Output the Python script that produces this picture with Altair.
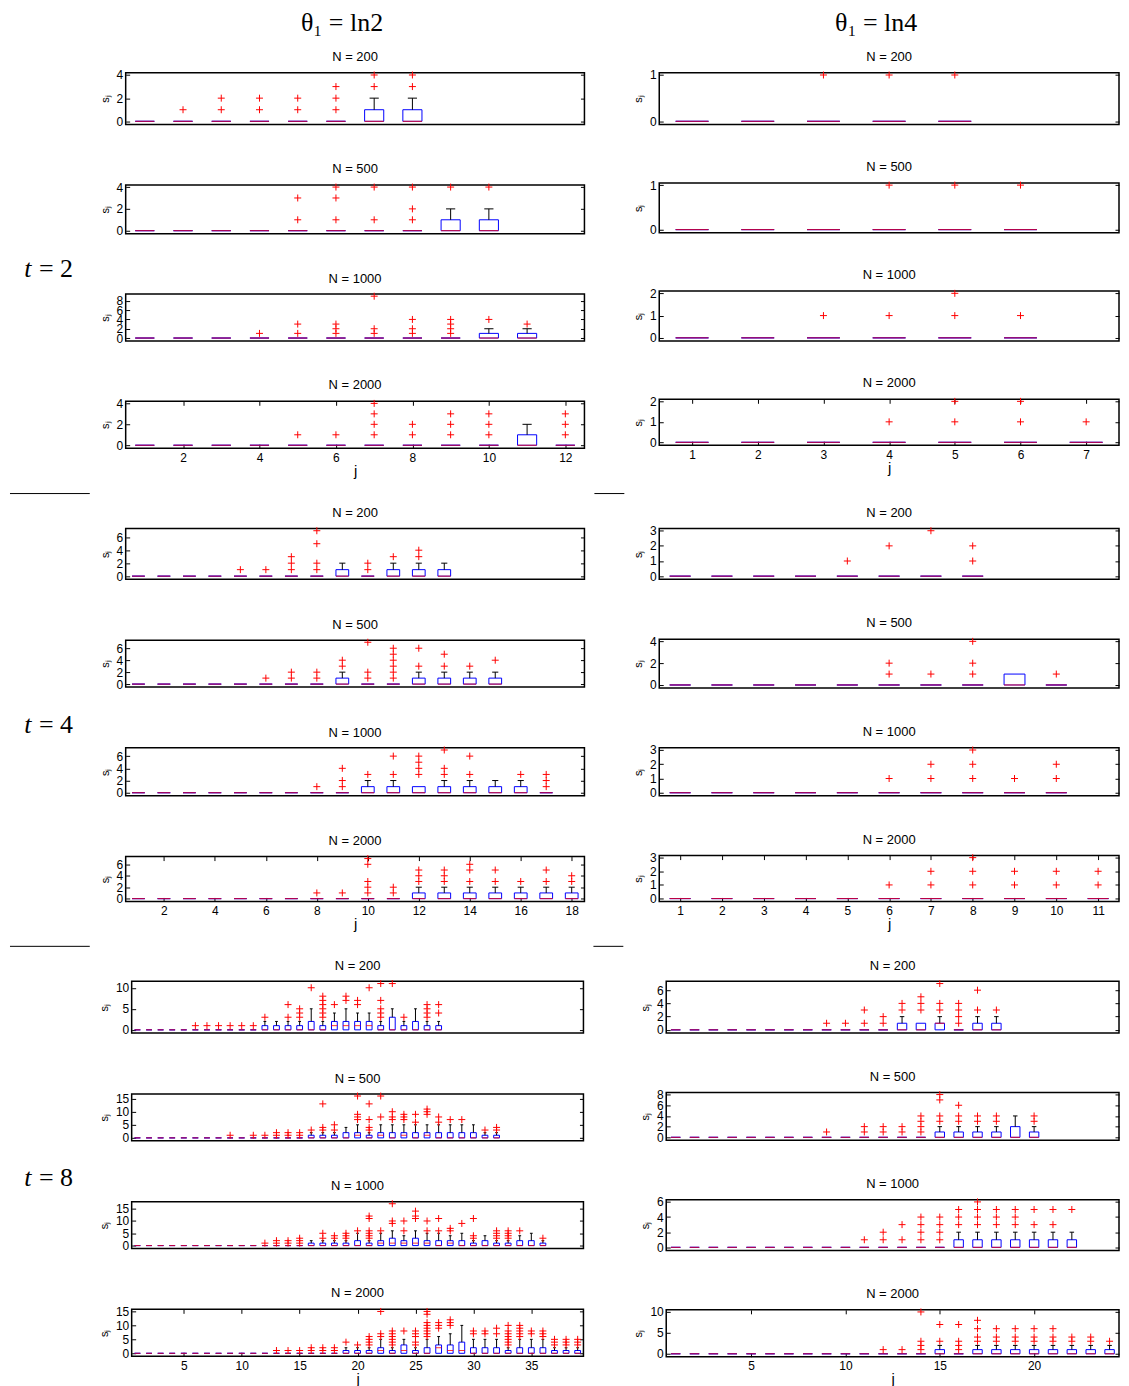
import altair as alt
import pandas as pd

# Each box: a plain list = box collapsed at 0 (q1 = median = q3 = 0) with those outliers;
# a tuple = (upper quartile, median, upper whisker end, outliers); lower quartile / whisker = 0.

# ---------------- t = 2 ----------------
L2_N200 = [[], [1], [1, 2], [1, 2], [1, 2], [1, 2, 3], (1, 0, 2, [3, 4]), (1, 0, 2, [3, 4])]
L2_N500 = [[], [], [], [], [1, 3], [1, 3, 4], [1, 4], [1, 2, 4], (1, 0, 2, [4]), (1, 0, 2, [4])]
L2_N1000 = [[], [], [], [1], [1, 3], [1, 2, 3], [1, 2, 9], [1, 2, 4], [1, 2, 3, 4],
            (1, 0, 2, [4]), (1, 0, 2, [3])]
L2_N2000 = [[], [], [], [], [1], [1], [1, 2, 3, 4], [1, 2], [1, 2, 3], [1, 2, 3],
            (1, 0, 2, []), [1, 2, 3]]
R2_N200 = [[], [], [1], [1], [1]]
R2_N500 = [[], [], [], [1], [1], [1]]
R2_N1000 = [[], [], [1], [1], [1, 2], [1]]
R2_N2000 = [[], [], [], [1], [1, 2], [1, 2], [1]]

# ---------------- t = 4 ----------------
L4_N200 = [[], [], [], [], [1], [1], [1, 2, 3], [1, 2, 5, 7], (1, 0, 2, []), [1, 2],
           (1, 0, 2, [3]), (1, 0, 2, [3, 4]), (1, 0, 2, [])]
L4_N500 = [[], [], [], [], [], [1], [1, 2], [1, 2], (1, 0, 2, [3, 4]), [1, 2, 7],
           [1, 2, 3, 4, 5, 6], (1, 0, 2, [3, 6]), (1, 0, 2, [3, 5]), (1, 0, 2, [3]), (1, 0, 2, [4])]
L4_N1000 = [[], [], [], [], [], [], [], [1], [1, 2, 4], (1, 0, 2, [3]), (1, 0, 2, [3, 6]),
            (1, 0, 1, [3, 4, 5, 6]), (1, 0, 2, [3, 4, 7]), (1, 0, 2, [3, 6]), (1, 0, 2, []),
            (1, 0, 2, [3]), [1, 2, 3]]
L4_N2000 = [[], [], [], [], [], [], [], [1], [1], [1, 2, 3, 6, 7], [1, 2], (1, 0, 2, [3, 4, 5]),
            (1, 0, 2, [3, 4, 5]), (1, 0, 2, [3, 5, 6]), (1, 0, 2, [3, 5]), (1, 0, 2, [3]),
            (1, 0, 2, [3, 5]), (1, 0, 2, [3, 4])]
R4_N200 = [[], [], [], [], [1], [2], [3], [1, 2]]
R4_N500 = [[], [], [], [], [], [1, 2], [1], [1, 2, 4], (1, 0, 1, []), [1]]
R4_N1000 = [[], [], [], [], [], [1], [1, 2], [1, 2, 3], [1], [1, 2]]
R4_N2000 = [[], [], [], [], [], [1], [1, 2], [1, 2, 3], [1, 2], [1, 2], [1, 2]]

# ---------------- t = 8 ----------------
L8_N200 = [[], [], [], [], [], [1], [1], [1], [1], [1], [1],
           (1, 0, 2, [3]), (1, 0, 2, []), (1, 0, 2, [3, 6]), (1, 0, 2, [3, 4, 5]), (2, 0, 5, [10]),
           (1, 0, 2, [3, 4, 5, 6, 7, 8]), (2, 1, 4, [6]), (2, 1, 5, [7, 8]), (2, 1, 4, [6, 7]),
           (2, 1, 4, [10]), (1, 0, 2, [3, 4, 5, 7, 11]), (3, 0, 5, [11]), (1, 0, 2, [3]),
           (2, 0, 5, []), (1, 0, 2, [3, 4, 5, 6]), (1, 0, 2, [4, 6])]
L8_N500 = [[], [], [], [], [], [], [], [], [1], [], [1], [1], [1, 2], [1, 2], [1, 2],
           (1, 0, 2, [3]), (1, 0, 2, [3, 4, 13]), (1, 0, 2, [3, 5]), (2, 0, 4, []),
           (2, 1, 5, [7, 8, 9, 16]), (1, 0, 2, [3, 4, 7, 13]), (2, 1, 5, [8, 16]),
           (2, 0, 5, [7, 8, 10]), (2, 1, 5, [7, 8, 9]), (2, 0, 5, [6, 9]), (2, 1, 5, [9, 10, 11]),
           (2, 0, 5, [6, 8]), (2, 0, 5, [7]), (2, 0, 5, [7]), (2, 0, 5, []), (1, 0, 2, [3]),
           (1, 0, 2, [3, 4])]
L8_N1000 = [[], [], [], [], [], [], [], [], [], [], [], [1], [1, 2], [1, 2], [1, 2, 3],
            (1, 0, 2, []), (1, 0, 2, [3, 5]), (1, 0, 2, [3, 4]), (1, 0, 2, [3, 4, 5]), (2, 0, 5, [6]),
            (1, 0, 2, [3, 4, 5, 6, 11, 12]), (2, 1, 5, [6]), (3, 1, 6, [9, 10, 17]),
            (2, 1, 4, [6, 10]), (3, 1, 6, [11, 12, 14]), (2, 1, 5, [6, 10]), (2, 0, 5, [6, 11]),
            (2, 1, 4, [6, 7]), (2, 0, 5, [9]), (1, 0, 2, [3, 4, 11]), (2, 0, 4, []),
            (1, 0, 2, [3, 4, 5, 6]), (1, 0, 2, [3, 4, 5, 6]), (2, 0, 4, [6]), (2, 0, 5, []),
            (1, 0, 2, [3])]
L8_N2000 = [[], [], [], [], [], [], [], [], [], [], [], [], [1], [1], [1], [1, 2], [1, 2], [1, 2],
            (1, 0, 2, [4]), (1, 0, 2, [3]), (1, 0, 2, [3, 4, 5, 6]), (2, 1, 5, [6, 7, 15]),
            (1, 0, 2, [3, 4, 5, 6, 7, 8]), (3, 1, 5, [8]), (1, 0, 2, [3, 4, 6, 7, 8]),
            (2, 0, 5, [6, 7, 8, 9, 10, 11, 14, 15]), (3, 2, 6, [9, 10, 11]), (3, 1, 7, [10, 11, 12]),
            (4, 1, 10, []), (2, 0, 5, [7, 8]), (2, 0, 5, [7, 8]), (2, 0, 5, [7, 9]),
            (1, 0, 2, [3, 4, 5, 6, 7, 8, 10]), (2, 0, 5, [6, 7, 8, 9, 10]), (2, 0, 5, [7, 8]),
            (2, 0, 5, [6, 7, 8]), (1, 0, 2, [3, 4, 5]), (1, 0, 2, [3, 4, 5]), (1, 0, 2, [3, 4, 5])]
R8_N200 = [[], [], [], [], [], [], [], [], [1], [1], [1, 3], [1, 2], (1, 0, 2, [3, 4]),
           (1, 0, 1, [3, 4, 5]), (1, 1, 2, [3, 4, 7]), [1, 2, 3, 4], (1, 0, 2, [3, 6]), (1, 0, 2, [3])]
R8_N500 = [[], [], [], [], [], [], [], [], [1], [], [1, 2], [1, 2], [1, 2], [1, 2, 3, 4],
           (1, 0, 2, [3, 4, 7, 8]), (1, 0, 2, [3, 4, 6]), (1, 0, 2, [3, 4]), (1, 0, 2, [3, 4]),
           (2, 0, 4, []), (1, 0, 2, [3, 4])]
R8_N1000 = [[], [], [], [], [], [], [], [], [], [], [1], [1, 2], [1, 3], [1, 2, 3, 4], [1, 2, 3, 4],
            (1, 0, 2, [3, 4, 5]), (1, 0, 2, [3, 4, 5, 6]), (1, 0, 2, [3, 4, 5]), (1, 0, 2, [3, 4, 5]),
            (1, 0, 2, [3, 5]), (1, 0, 2, [3, 5]), (1, 0, 2, [5])]
R8_N2000 = [[], [], [], [], [], [], [], [], [], [], [], [1], [1], [1, 2, 3, 10], (1, 0, 2, [3, 7]),
            [1, 2, 3, 7], (1, 0, 2, [3, 4, 6, 8]), (1, 0, 2, [3, 4, 6]), (1, 0, 2, [3, 4, 6]),
            (1, 0, 2, [3, 4, 6]), (1, 0, 2, [3, 4, 6]), (1, 0, 2, [3, 4]), (1, 0, 2, [3, 4]),
            (1, 0, 2, [3])]

N_LABELS = ["N = 200", "N = 500", "N = 1000", "N = 2000"]
COL_TITLES = ["\u03b8\u2081 = ln2", "\u03b8\u2081 = ln4"]
T_VALUES = ["= 2", "= 4", "= 8"]

SANS = "Liberation Sans"
SERIF = "Liberation Serif"
BLUE = "#0000ff"
RED = "#ff0000"
PLUS = "M-1,0L1,0M0,-1L0,1"


def norm(b):
    if isinstance(b, list):
        return (0, 0, 0, b)
    return b


def panel(data, nslots, title, yticks, xticks, width, height):
    brows, orows = [], []
    for i, b in enumerate(data):
        q3, med, whi, outs = norm(b)
        j = i + 1
        brows.append({"j": j, "q1": 0, "q3": q3, "med": med, "whi": whi,
                      "x0": j - 0.25, "x1": j + 0.25, "c0": j - 0.12, "c1": j + 0.12})
        for v in outs:
            orows.append({"j": j, "v": v})
    bdf = pd.DataFrame(brows)
    odf = pd.DataFrame(orows, columns=["j", "v"])
    wdf = bdf[bdf["whi"] > bdf["q3"]]
    top = max([r["v"] for r in orows] + [r["whi"] for r in brows] + [1])
    xs = alt.Scale(domain=[0.5, nslots + 0.5], nice=False, zero=False)
    ys = alt.Scale(domain=[-0.07 * top, 1.05 * top], nice=False, zero=False)

    yl = alt.Axis(orient="left", values=yticks, format="d", offset=-4, tickSize=4, labelPadding=3,
                  title="s\u2c7c", titleFontSize=11, titlePadding=6, labelOverlap=False)
    yr = alt.Axis(orient="right", values=yticks, offset=-4, tickSize=4, labels=False, title=None)
    if xticks:
        xb = alt.Axis(orient="bottom", values=xticks, format="d", offset=-4, tickSize=4,
                      labelPadding=4, title="j", titleFontSize=15, titlePadding=0,
                      labelFlush=False, labelOverlap=False)
        xt = alt.Axis(orient="top", values=xticks, offset=-4, tickSize=4, labels=False, title=None)
    else:
        xb = None
        xt = None

    box = alt.Chart(bdf).mark_rect(fillOpacity=0, stroke=BLUE, strokeWidth=1).encode(
        x=alt.X("x0:Q", scale=xs, axis=xt), x2="x1:Q",
        y=alt.Y("q1:Q", scale=ys, axis=yr), y2="q3:Q")
    whisker = alt.Chart(wdf).mark_rule(color="black", strokeWidth=1).encode(
        x=alt.X("j:Q", scale=xs, axis=None),
        y=alt.Y("q3:Q", scale=ys, axis=None), y2="whi:Q")
    cap = alt.Chart(wdf).mark_rule(color="black", strokeWidth=1).encode(
        x=alt.X("c0:Q", scale=xs, axis=None), x2="c1:Q",
        y=alt.Y("whi:Q", scale=ys, axis=None))
    median = alt.Chart(bdf).mark_rule(color=RED, strokeWidth=1, opacity=0.8).encode(
        x=alt.X("x0:Q", scale=xs, axis=xb), x2="x1:Q",
        y=alt.Y("med:Q", scale=ys, axis=yl))
    out = alt.Chart(odf).mark_point(shape=PLUS, filled=False, color=RED, size=49,
                                    strokeWidth=1, opacity=1).encode(
        x=alt.X("j:Q", scale=xs, axis=None),
        y=alt.Y("v:Q", scale=ys, axis=None))
    return alt.layer(box, whisker, cap, median, out).resolve_axis(
        x="independent", y="independent").properties(
        width=width, height=height, title=alt.TitleParams(title, offset=5))


def label_chart(tval, width, sep):
    df = pd.DataFrame({"t": ["t"], "rest": [tval]})
    layers = [
        alt.Chart(df).mark_text(font=SERIF, fontSize=26, fontStyle="italic", align="center",
                                baseline="middle", color="black").encode(
            x=alt.value(18), y=alt.value(197), text="t:N"),
        alt.Chart(df).mark_text(font=SERIF, fontSize=26, align="left",
                                baseline="middle", color="black").encode(
            x=alt.value(29), y=alt.value(197), text="rest:N"),
    ]
    if sep:
        layers.append(alt.Chart(df).mark_rule(color="black", strokeWidth=1).encode(
            x=alt.value(0), x2=alt.value(80), y=alt.value(-35)))
    return alt.layer(*layers).properties(
        width=width, height=1, view=alt.ViewBackground(stroke="transparent"))


def mid_chart(width, sep):
    df = pd.DataFrame({"s": [""]})
    if sep:
        m = alt.Chart(df).mark_rule(color="black", strokeWidth=1).encode(
            x=alt.value(7), x2=alt.value(37), y=alt.value(-35))
    else:
        m = alt.Chart(df).mark_text().encode(x=alt.value(0), y=alt.value(0), text="s:N")
    return m.properties(width=width, height=1, view=alt.ViewBackground(stroke="transparent"))


def column(datasets, nslots, yticks_list, xticks, width, heights, spacing, header=None):
    panels = []
    for k in range(4):
        panels.append(panel(datasets[k], nslots, N_LABELS[k], yticks_list[k],
                            xticks if k == 3 else None, width, heights[k]))
    col = alt.vconcat(*panels, spacing=spacing)
    if header:
        col = col.properties(title=alt.TitleParams(header, font=SERIF, fontSize=26,
                                                   fontWeight="normal", anchor="middle",
                                                   offset=14))
    return col


g2 = alt.hconcat(
    label_chart(T_VALUES[0], 86.5, False),
    column([L2_N200, L2_N500, L2_N1000, L2_N2000], 12,
           [[0, 2, 4], [0, 2, 4], [0, 2, 4, 6, 8], [0, 2, 4]], [2, 4, 6, 8, 10, 12],
           460, [52, 49, 47, 47], 33.5, COL_TITLES[0]),
    mid_chart(42.5, False),
    column([R2_N200, R2_N500, R2_N1000, R2_N2000], 7,
           [[0, 1], [0, 1], [0, 1, 2], [0, 1, 2]], [1, 2, 3, 4, 5, 6, 7],
           461, [52, 50, 50, 46], 31.5, COL_TITLES[1]),
    spacing=0)

g4 = alt.hconcat(
    label_chart(T_VALUES[1], 86.5, True),
    column([L4_N200, L4_N500, L4_N1000, L4_N2000], 18,
           [[0, 2, 4, 6]] * 4, [2, 4, 6, 8, 10, 12, 14, 16, 18],
           460, [51, 47, 48, 45], 34),
    mid_chart(42.5, True),
    column([R4_N200, R4_N500, R4_N1000, R4_N2000], 11,
           [[0, 1, 2, 3], [0, 2, 4], [0, 1, 2, 3], [0, 1, 2, 3]], list(range(1, 12)),
           461, [51, 49, 48, 46], 33),
    spacing=0)

g8 = alt.hconcat(
    label_chart(T_VALUES[2], 86, True),
    column([L8_N200, L8_N500, L8_N1000, L8_N2000], 39,
           [[0, 5, 10], [0, 5, 10, 15], [0, 5, 10, 15], [0, 5, 10, 15]],
           [5, 10, 15, 20, 25, 30, 35], 453, [52, 47, 47, 47], 34),
    mid_chart(43.5, True),
    column([R8_N200, R8_N500, R8_N1000, R8_N2000], 24,
           [[0, 2, 4, 6], [0, 2, 4, 6, 8], [0, 2, 4, 6], [0, 5, 10]], [5, 10, 15, 20],
           454, [52, 48, 51, 47], 32.5),
    spacing=0)

chart = alt.vconcat(g2, g4, g8, spacing=12).properties(
    padding={"top": 0, "left": 0, "right": 0, "bottom": 0}, background="white"
).configure_view(stroke="black", strokeWidth=1.5).configure_axis(
    labelFont=SANS, labelFontSize=12, labelColor="black", tickColor="black", tickWidth=1,
    titleFont=SANS, titleColor="black", titleFontWeight="normal", grid=False, domain=False
).configure_title(font=SANS, fontSize=13, fontWeight="normal", color="black", anchor="middle")

chart.save("out.html", embed_options={"renderer": "svg", "actions": False})
